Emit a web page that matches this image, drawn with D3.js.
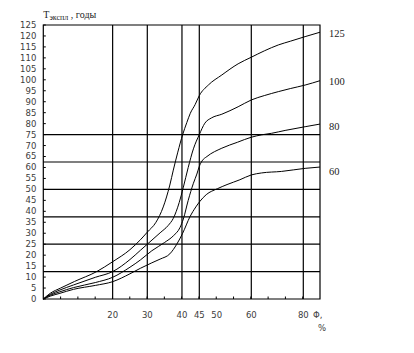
<!DOCTYPE html>
<html>
<head>
<meta charset="utf-8">
<script src="https://cdn.jsdelivr.net/npm/d3@7/dist/d3.min.js"></script>
<style>
  html, body { margin: 0; padding: 0; background: #fff; }
  svg { display: block; }
  .tick-label { font-family: "DejaVu Sans", sans-serif; font-size: 8.5px; fill: #3c3c3c; }
  .serif { font-family: "Liberation Serif", "Times New Roman", serif; fill: #222; }
</style>
</head>
<body>
<svg id="chart" width="414" height="353"></svg>
<script>
// Service life T (years) versus Φ (%), one curve per group: 125, 100, 80, 60
const seriesNames = ["125", "100", "80", "60"];

const curve125 = [[0,0],[2,2.6],[5,5],[9,8],[15.4,12.5],[20,17],[25,22.5],[28,27],[30,30.5],[32.5,35],
  [34.6,42],[36.5,52],[37.5,58.8],[38.8,67],[40.2,75],[41.4,80.5],[42.4,84.7],[43.8,88.7],[45,92.8],
  [47.6,97.6],[51.5,102.2],[56.2,107.3],[60,110.3],[65,113.2],[70.4,115.9],[75,117.6],[80.7,119.7],[86.4,121.7]];

const curve100 = [[0,0],[2,2.1],[4.8,4.1],[8.7,6.4],[15,9.9],[20,12.5],[25,18],[28,22.2],[30,25],[33.7,30.2],
  [36,33.5],[37.5,36.8],[39.2,44],[40.4,51],[41.8,60],[43.3,68.5],[45,75],[46.6,80.2],[48.5,82.6],
  [51.5,84.3],[56.2,87.7],[60,90.8],[65,92.8],[70.4,94.6],[75,96],[80.7,97.6],[86.4,99.6]];

const curve80 = [[0,0],[2,1.7],[4.8,3.3],[8.7,5.2],[15,7.5],[20,9.9],[25,14.5],[28,17.8],[31.3,22],[35,25.8],
  [37.5,28.8],[39.4,32.5],[40.4,36.5],[41.8,45],[43.3,52.8],[44.3,57],[45,60.5],[45.8,63],[47.2,65],
  [51.5,68.8],[56,71.5],[60,73.8],[64,74.9],[67.8,75.6],[73,76.9],[80.7,78.6],[86.4,79.8]];

const curve60 = [[0,0],[2,1.3],[4.8,2.6],[8.7,4.4],[15,6.2],[20,7.9],[25,11.5],[28,14],[31.3,16.5],[33.7,18.2],
  [36.5,20.6],[38.5,25],[40.2,30],[42.3,37.5],[44,42],[45.2,44.6],[47,47.6],[50.2,50.3],[53,52.2],
  [56.7,54.4],[60,56.6],[63.9,57.5],[71.6,58.2],[80.7,59.6],[86.4,60.2]];

const curves = [curve125, curve100, curve80, curve60];

// Axis labels and grid positions
const yTickValues = [0,5,10,15,20,25,30,35,40,45,50,55,60,65,70,75,80,85,90,95,100,105,110,115,120,125];
const xTickLabels = [20,30,40,45,50,60,80];
const xGridValues = [20,30,40,45,60,80];
const yGridValues = [12.5,25,37.5,50,62.5,75];
const labelOffsets = [0.8, 0.2, 1.8, 4];

const svg = d3.select("#chart");

const plotLeft = 43.3, plotRight = 320, plotTop = 25, plotBottom = 299;

// Φ axis: evenly spaced up to 60, compressed above
const x = d3.scaleLinear().domain([0, 60, 80, 86.4]).range([plotLeft, 251.3, 303.3, plotRight]);
const y = d3.scaleLinear().domain([0, 125]).range([plotBottom, plotTop]);
// evenly spaced minor tick slots along the bottom edge
const slot = d3.scaleLinear().domain([0, 16]).range([plotLeft, plotRight]);

const g = svg.append("g");

// horizontal grid
g.selectAll("line.hgrid").data(yGridValues).join("line")
  .attr("class", "hgrid")
  .attr("x1", plotLeft).attr("x2", plotRight)
  .attr("y1", d => y(d)).attr("y2", d => y(d))
  .attr("stroke", "#000").attr("stroke-width", 1.2);

// vertical grid
g.selectAll("line.vgrid").data(xGridValues).join("line")
  .attr("class", "vgrid")
  .attr("x1", d => x(d)).attr("x2", d => x(d))
  .attr("y1", plotTop).attr("y2", plotBottom)
  .attr("stroke", "#000").attr("stroke-width", 1.2);

// frame
g.append("path")
  .attr("d", `M${plotLeft},${plotTop}H${plotRight}V${plotBottom}H${plotLeft}Z`)
  .attr("fill", "none").attr("stroke", "#000").attr("stroke-width", 1.2);

// y ticks (inward)
g.selectAll("line.ytick").data(yTickValues).join("line")
  .attr("class", "ytick")
  .attr("x1", plotLeft).attr("x2", plotLeft + 2.5)
  .attr("y1", d => y(d)).attr("y2", d => y(d))
  .attr("stroke", "#000").attr("stroke-width", 1);

g.selectAll("text.ylab").data(yTickValues).join("text")
  .attr("class", "tick-label ylab")
  .attr("x", plotLeft - 7).attr("y", d => y(d))
  .attr("dy", "0.35em").attr("text-anchor", "end")
  .text(d => d);

// x ticks (inward)
g.selectAll("line.xtick").data(d3.range(1, 16)).join("line")
  .attr("class", "xtick")
  .attr("x1", d => slot(d)).attr("x2", d => slot(d))
  .attr("y1", plotBottom).attr("y2", plotBottom - 2.5)
  .attr("stroke", "#000").attr("stroke-width", 1);

g.selectAll("text.xlab").data(xTickLabels).join("text")
  .attr("class", "tick-label xlab")
  .attr("x", d => x(d)).attr("y", 317.5)
  .attr("text-anchor", "middle")
  .text(d => d);

g.append("text").attr("class", "tick-label")
  .attr("x", 313).attr("y", 317.5).text("Φ,");
g.append("text").attr("class", "tick-label")
  .attr("x", 318).attr("y", 331).text("%");

// title with subscript
const title = g.append("text").attr("class", "serif")
  .attr("x", plotLeft).attr("y", 18).attr("font-size", 10);
title.append("tspan").text("Т");
title.append("tspan").attr("font-size", 8).attr("dy", 1.5).text("экспл");
title.append("tspan").attr("dy", -1.5).text(" , годы");

// curves
const line = d3.line()
  .x(d => x(d[0])).y(d => y(d[1]))
  .curve(d3.curveMonotoneX);

g.selectAll("path.curve").data(curves).join("path")
  .attr("class", "curve")
  .attr("d", line)
  .attr("fill", "none").attr("stroke", "#000").attr("stroke-width", 1);

// curve labels at right end
g.selectAll("text.clab").data(curves).join("text")
  .attr("class", "serif clab")
  .attr("font-size", 10.5)
  .attr("x", 329)
  .attr("y", (d, i) => y(d[d.length - 1][1]) + labelOffsets[i])
  .attr("dy", "0.35em")
  .text((d, i) => seriesNames[i]);
</script>
</body>
</html>
